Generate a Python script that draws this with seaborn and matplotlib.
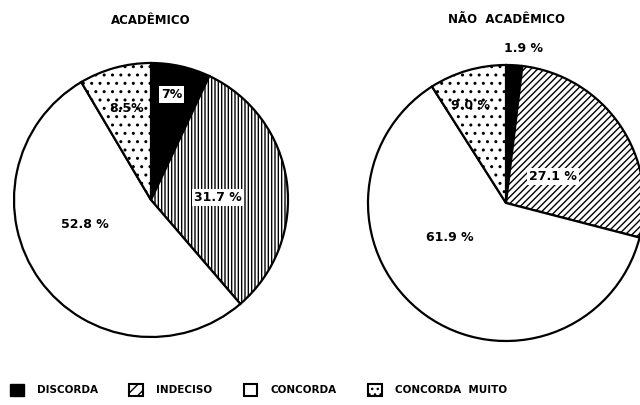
import matplotlib
matplotlib.use("Agg")
import matplotlib.pyplot as plt
from matplotlib.patches import Patch
import seaborn as sns

# Opinion categories and the shares (%) for each group
categories = ["DISCORDA", "INDECISO", "CONCORDA", "CONCORDA  MUITO"]
academico = [7.0, 31.7, 52.8, 8.5]
nao_academico = [1.9, 27.1, 61.9, 9.0]
academico_labels = ["7%", "31.7 %", "52.8 %", "8.5%"]
nao_academico_labels = ["1.9 %", "27.1 %", "61.9 %", "9.0 %"]
titles = ["ACADÊMICO", "NÃO  ACADÊMICO"]

sns.set_style("white")
plt.rcParams["font.family"] = ["DejaVu Sans"]
plt.rcParams["text.color"] = "black"
plt.rcParams["hatch.color"] = "black"
plt.rcParams["hatch.linewidth"] = 1.0

fig = plt.figure(figsize=(6.4, 4.05), dpi=100)
W, H = 640, 405

colors = ["black", "white", "white", "white"]


def pie_axes(cx, cy, r):
    return fig.add_axes([(cx - r) / W, 1 - (cy + r) / H, 2 * r / W, 2 * r / H])


def draw_pie(ax, values, labels, hatches, label_pos, boxed, title, title_y):
    wedges, _ = ax.pie(values, colors=colors, startangle=90, counterclock=False,
                       radius=1.0, wedgeprops=dict(edgecolor="black", linewidth=1.6))
    for w, h in zip(wedges, hatches):
        w.set_hatch(h)
    for i, (txt, (x, y)) in enumerate(zip(labels, label_pos)):
        kw = {}
        if boxed[i]:
            kw["bbox"] = dict(boxstyle="square,pad=0.15", fc="white", ec="none")
        ax.text(x, y, txt, ha="center", va="center", fontsize=9,
                fontweight="bold", clip_on=False, **kw)
    ax.text(0, title_y, title, ha="center", va="center", fontsize=8.5,
            fontweight="bold", clip_on=False)
    ax.set_xlim(-1, 1)
    ax.set_ylim(-1, 1)
    ax.axis("off")


ax1 = pie_axes(151, 200, 137)
draw_pie(ax1, academico, academico_labels,
         [None, "|||||", None, ".."],
         [(0.15, 0.77), (0.49, 0.02), (-0.48, -0.18), (-0.18, 0.67)],
         [True, True, False, False], titles[0], 1.31)

ax2 = pie_axes(506, 203, 138)
draw_pie(ax2, nao_academico, nao_academico_labels,
         [None, "/////", None, ".."],
         [(0.13, 1.12), (0.34, 0.19), (-0.41, -0.25), (-0.26, 0.71)],
         [False, True, False, False], titles[1], 1.33)

handles = [
    Patch(facecolor="black", edgecolor="black"),
    Patch(facecolor="white", edgecolor="black", hatch="///", linewidth=1.5),
    Patch(facecolor="white", edgecolor="black", linewidth=1.5),
    Patch(facecolor="white", edgecolor="black", hatch="...", linewidth=1.5),
]
leg = fig.legend(handles, categories, loc="center left",
                 bbox_to_anchor=(10 / W, 1 - 390 / H),
                 ncol=4, frameon=False, handlelength=1.3, handleheight=1.5,
                 columnspacing=3.0, handletextpad=1.3, borderpad=0,
                 borderaxespad=0, prop=dict(weight="bold", size=7.5))

fig.savefig("out.png", dpi=100)
